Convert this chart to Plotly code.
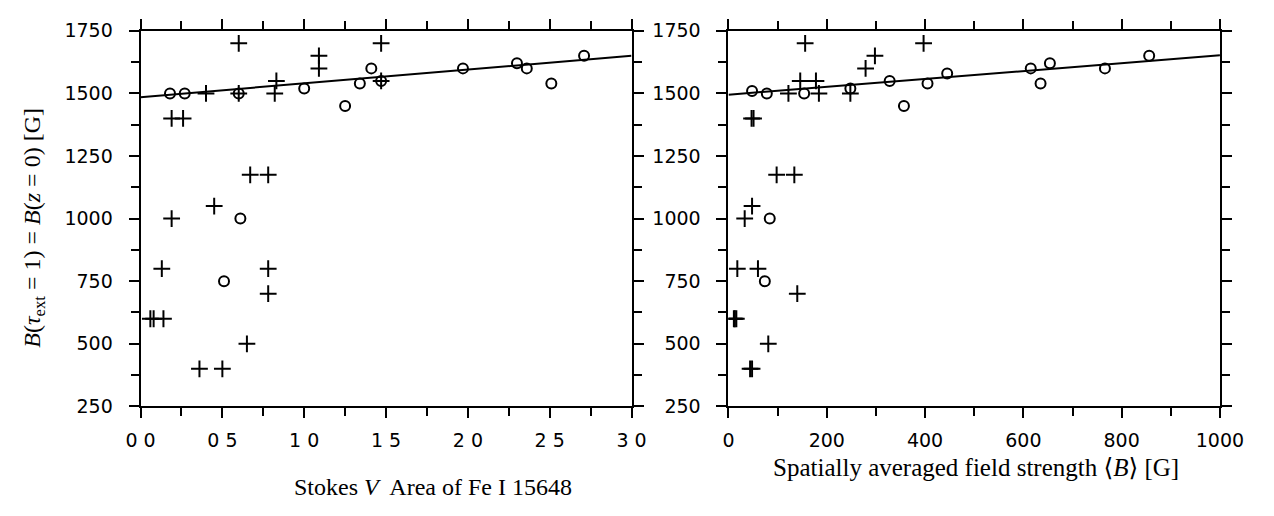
import plotly.graph_objects as go

# ---------------- data ----------------
# Left panel: Stokes V area of Fe I 15648
left_circle_x = [0.18, 0.27, 0.60, 0.61, 0.51, 1.00, 1.25, 1.34, 1.41, 1.47, 1.97, 2.30, 2.36, 2.51, 2.71]
left_circle_y = [1500, 1500, 1500, 1000, 750, 1520, 1450, 1540, 1600, 1550, 1600, 1620, 1600, 1540, 1650]
left_plus_x = [0.60, 1.47, 1.09, 1.09, 0.83, 1.47, 0.40, 0.60, 0.82, 0.19, 0.26, 0.67, 0.78,
               0.45, 0.19, 0.13, 0.78, 0.78, 0.06, 0.08, 0.14, 0.65, 0.36, 0.50]
left_plus_y = [1700, 1700, 1650, 1600, 1550, 1550, 1500, 1500, 1500, 1400, 1400, 1175, 1175,
               1050, 1000, 800, 800, 700, 600, 600, 600, 500, 400, 400]
left_fit_x = [0.0, 3.0]
left_fit_y = [1485, 1650]

# Right panel: spatially averaged field strength <B>
right_circle_x = [48, 78, 154, 248, 328, 357, 405, 445, 615, 635, 654, 766, 856, 84, 74]
right_circle_y = [1510, 1500, 1500, 1520, 1550, 1450, 1540, 1580, 1600, 1540, 1620, 1600, 1650, 1000, 750]
right_plus_x = [156, 397, 298, 279, 146, 178, 122, 184, 248, 47, 51, 98, 134,
                48, 33, 18, 60, 140, 11, 13, 16, 81, 44, 48]
right_plus_y = [1700, 1700, 1650, 1600, 1550, 1550, 1500, 1500, 1500, 1400, 1400, 1175, 1175,
                1050, 1000, 800, 800, 700, 600, 600, 600, 500, 400, 400]
right_fit_x = [0, 1000]
right_fit_y = [1495, 1652]

left_tickvals = [0.0, 0.5, 1.0, 1.5, 2.0, 2.5, 3.0]
left_ticktext = ["0 0", "0 5", "1 0", "1 5", "2 0", "2 5", "3 0"]
right_tickvals = [0, 200, 400, 600, 800, 1000]
y_tickvals = [250, 500, 750, 1000, 1250, 1500, 1750]

# ---------------- figure ----------------
W, H = 1274, 516
fig = go.Figure()

def add_panel(cx, cy, px, py, fx, fy, xa, ya):
    fig.add_trace(go.Scatter(x=fx, y=fy, mode="lines", line=dict(color="black", width=2),
                             xaxis=xa, yaxis=ya, showlegend=False, hoverinfo="skip"))
    fig.add_trace(go.Scatter(x=cx, y=cy, mode="markers",
                             marker=dict(symbol="circle-open", size=10, color="black",
                                         line=dict(width=2, color="black")),
                             xaxis=xa, yaxis=ya, showlegend=False))
    fig.add_trace(go.Scatter(x=px, y=py, mode="markers",
                             marker=dict(symbol="cross-thin-open", size=12, color="black",
                                         line=dict(width=2, color="black")),
                             xaxis=xa, yaxis=ya, showlegend=False))

add_panel(left_circle_x, left_circle_y, left_plus_x, left_plus_y, left_fit_x, left_fit_y, "x", "y")
add_panel(right_circle_x, right_circle_y, right_plus_x, right_plus_y, right_fit_x, right_fit_y, "x2", "y2")

tick_font = dict(family="DejaVu Sans, Liberation Sans, sans-serif", size=19, color="black")
common = dict(showline=True, linecolor="black", linewidth=2, mirror="ticks",
              ticks="outside", ticklen=10, tickwidth=2, tickcolor="black",
              showgrid=False, zeroline=False, tickfont=tick_font, fixedrange=True)
minor_common = dict(ticks="outside", ticklen=8, tickwidth=2, tickcolor="black")

ydom = [1 - 413 / H, 1 - 20.7 / H]
fig.update_layout(
    width=W, height=H,
    margin=dict(l=0, r=0, t=0, b=0),
    paper_bgcolor="white", plot_bgcolor="white",
    xaxis=dict(domain=[129.5 / W, 636 / W], range=[0, 3.0], tickmode="array",
               tickvals=left_tickvals, ticktext=left_ticktext,
               minor=dict(dtick=0.25, **minor_common), ticklabelstandoff=6,
               anchor="y", **common),
    yaxis=dict(domain=ydom, range=[250, 1750], tickmode="array", tickvals=y_tickvals,
               minor=dict(dtick=125, **minor_common), ticklabelstandoff=12,
               anchor="x", **common),
    xaxis2=dict(domain=[736 / W, 1243 / W], range=[0, 1000], tickmode="array",
                tickvals=right_tickvals,
                minor=dict(dtick=100, **minor_common), ticklabelstandoff=6,
                anchor="y2", **common),
    yaxis2=dict(domain=ydom, range=[250, 1750], tickmode="array", tickvals=y_tickvals,
                minor=dict(dtick=125, **minor_common), ticklabelstandoff=12,
                anchor="x2", **common),
)

serif = dict(family="Liberation Serif, DejaVu Serif, serif", size=24, color="black")
fig.add_annotation(text="Stokes <i>V</i>  Area of Fe I 15648", xref="paper", yref="paper",
                   x=431 / W, y=1 - 497 / H, showarrow=False, font=serif,
                   xanchor="center", yanchor="middle")
fig.add_annotation(text="Spatially averaged field strength ⟨<i>B</i>⟩ [G]", xref="paper", yref="paper",
                   x=991 / W, y=1 - 477 / H, showarrow=False,
                   font=dict(family="Liberation Serif, DejaVu Serif, serif", size=25, color="black"),
                   xanchor="center", yanchor="middle")
fig.add_annotation(text="<i>B</i>(<i>τ</i><sub>ext</sub> = 1) = <i>B</i>(<i>z</i> = 0) [G]",
                   xref="paper", yref="paper", x=20 / W, y=1 - 226 / H, showarrow=False,
                   font=serif, textangle=-90, xanchor="center", yanchor="middle")

fig.write_html("out.html")
